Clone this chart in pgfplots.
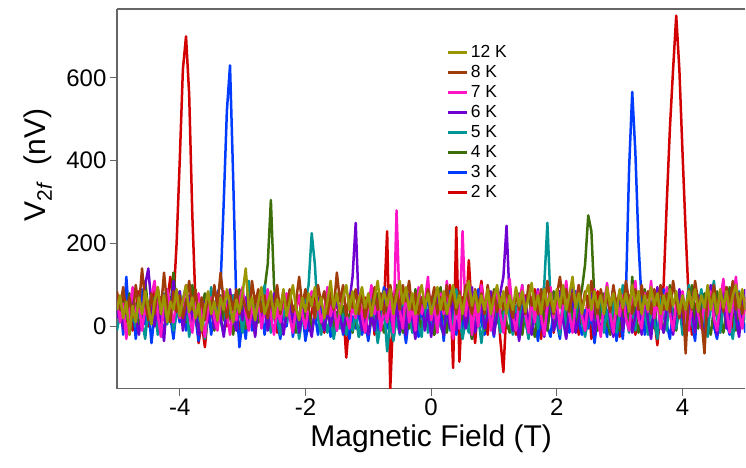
\documentclass[border=0pt]{standalone}
\usepackage{fontspec}
\setmainfont{Liberation Sans}
\usepackage{pgfplots}
\usepackage{pgfplotstable}
\pgfplotsset{compat=1.18}
\definecolor{cR}{RGB}{210,0,0}
\definecolor{cB}{RGB}{0,60,255}
\definecolor{cG}{RGB}{60,110,10}
\definecolor{cT}{RGB}{0,150,150}
\definecolor{cP}{RGB}{110,0,210}
\definecolor{cM}{RGB}{255,20,200}
\definecolor{cN}{RGB}{160,60,10}
\definecolor{cO}{RGB}{155,150,0}
\pgfplotstableread{
x r b g t p m n o
-5.00 60 30 45 -10 20 80 85 40
-4.95 20 70 10 30 60 10 40 75
-4.90 75 -20 60 5 -5 55 95 20
-4.85 10 120 20 55 45 -30 30 60
-4.80 55 10 80 -20 10 40 70 -20
-4.75 -10 60 15 40 70 95 20 50
-4.70 40 -30 55 0 20 15 100 10
-4.65 85 40 -5 60 -20 60 45 70
-4.60 25 90 35 15 40 -10 140 30
-4.55 60 5 110 -30 100 45 60 85
-4.50 0 50 40 45 140 20 15 45
-4.45 45 -40 75 10 50 75 80 5
-4.40 90 30 20 70 0 110 30 60
-4.35 30 80 -10 -20 60 30 95 95
-4.30 70 15 60 35 15 -25 40 30
-4.25 15 -15 30 80 -35 60 130 75
-4.20 55 65 90 5 70 90 50 10
-4.15 120 25 40 50 25 40 10 60
-4.10 60 -30 130 -10 110 10 85 40
-4.05 200 45 50 30 40 65 35 90
-4.00 400 10 20 85 85 20 75 25
-3.95 620 70 70 20 -10 55 20 65
-3.90 700 -10 10 60 40 100 60 100
-3.85 560 40 55 -25 75 30 110 35
-3.80 270 90 100 25 15 -15 40 70
-3.75 60 20 30 70 55 50 90 20
-3.70 -40 -35 -15 10 -20 80 25 55
-3.65 10 55 45 45 30 25 70 -10
-3.60 -50 15 80 -30 60 -25 15 45
-3.55 30 60 20 20 10 40 80 85
-3.50 80 -20 50 95 45 70 35 30
-3.45 20 35 -10 5 -5 20 100 60
-3.40 65 80 40 50 80 -10 50 15
-3.35 10 100 75 15 25 55 130 70
-3.30 55 300 15 -20 -25 85 60 40
-3.25 0 520 60 60 40 30 20 90
-3.20 40 630 25 30 90 -20 75 50
-3.15 75 360 -20 75 20 45 40 10
-3.10 30 60 45 10 -10 15 90 65
-3.05 -10 -50 90 40 55 60 30 35
-3.00 50 20 30 -15 15 95 70 80
-2.95 15 -30 -5 45 70 30 45 140
-2.90 70 55 60 110 0 -10 20 40
-2.85 25 -10 25 35 40 50 110 70
-2.80 -20 45 70 -10 -25 20 55 15
-2.75 45 10 10 50 65 70 90 60
-2.70 90 60 40 20 20 -5 35 95
-2.65 40 -20 90 100 50 40 75 30
-2.60 5 30 150 40 -10 90 20 55
-2.55 60 -5 305 -15 35 25 65 85
-2.50 30 50 100 60 80 -20 40 20
-2.45 -15 15 30 25 20 45 100 65
-2.40 45 -30 -5 -20 50 10 30 40
-2.35 85 40 40 40 -20 60 75 90
-2.30 20 0 75 10 30 80 45 25
-2.25 60 60 20 55 70 20 90 60
-2.20 -5 -25 50 -10 10 -15 35 100
-2.15 40 20 -15 30 45 45 60 45
-2.10 75 -5 30 -30 -15 75 120 15
-2.05 15 40 60 20 25 30 50 70
-2.00 50 -35 10 60 55 -5 90 35
-1.95 -10 10 45 100 10 50 40 80
-1.90 35 -15 -10 225 -25 85 70 50
-1.85 70 30 30 150 40 20 20 95
-1.80 20 -20 55 20 70 60 100 40
-1.75 55 45 -5 -20 20 10 55 70
-1.70 -15 0 40 30 -10 40 85 20
-1.65 40 55 20 -15 45 95 30 60
-1.60 90 -25 70 25 0 25 75 110
-1.55 30 20 -20 -30 35 60 40 45
-1.50 65 -10 35 15 60 -10 130 80
-1.45 0 40 10 -5 25 40 60 30
-1.40 45 -20 50 30 -15 90 100 70
-1.35 -75 15 -10 -20 30 30 25 100
-1.30 20 -30 30 20 60 -5 75 40
-1.25 80 25 -15 -10 120 50 45 85
-1.20 30 -5 25 35 250 20 90 30
-1.15 60 40 -25 -25 40 75 30 65
-1.10 10 -20 20 15 -10 25 80 95
-1.05 70 10 -5 -15 25 -15 20 45
-1.00 25 -35 40 30 -20 45 60 80
-0.95 85 20 5 75 30 100 35 25
-0.90 -20 55 30 25 -10 30 95 70
-0.85 40 -10 80 -40 65 60 40 110
-0.80 10 40 15 10 0 -10 80 40
-0.75 50 95 -15 50 30 45 30 85
-0.70 230 -5 60 -60 90 10 70 50
-0.65 -150 25 -10 15 25 75 100 90
-0.60 40 -30 45 -35 -5 -15 50 30
-0.55 85 30 100 20 60 280 90 75
-0.50 30 75 35 -20 -15 40 40 110
-0.45 70 15 -15 60 45 -5 100 55
-0.40 20 -40 50 -10 -20 85 60 95
-0.35 60 25 -5 35 80 10 110 40
-0.30 -10 70 30 -15 20 50 40 80
-0.25 45 10 90 45 -30 -10 80 30
-0.20 90 -25 25 0 35 95 30 70
-0.15 35 50 -5 -25 70 30 70 100
-0.10 60 5 55 65 -10 60 45 45
-0.05 10 90 0 -15 40 120 90 80
0.00 50 -5 70 20 -25 15 55 30
0.05 -20 30 -20 85 25 55 95 60
0.10 40 -15 20 30 75 -15 30 95
0.15 75 60 95 0 10 80 70 40
0.20 20 -35 25 -20 -20 30 40 85
0.25 60 40 -15 55 50 110 100 30
0.30 100 85 45 -10 -5 20 50 70
0.35 -100 20 10 20 85 -30 80 100
0.40 240 -20 65 90 -10 60 30 45
0.45 -85 45 -5 25 30 -5 85 75
0.50 70 -10 30 -30 55 230 45 30
0.55 20 70 80 15 -5 25 100 80
0.60 160 5 20 -15 35 90 60 110
0.65 30 -30 -30 60 95 -20 30 50
0.70 -40 35 40 -5 -15 55 90 85
0.75 60 90 15 25 20 0 50 35
0.80 110 10 75 -40 60 100 80 75
0.85 40 -20 -10 20 -5 35 30 40
0.90 -20 55 45 80 25 70 100 90
0.95 70 15 0 30 85 -10 50 30
1.00 20 -25 90 -10 -20 45 85 70
1.05 75 60 20 40 30 90 35 100
1.10 -30 20 -5 -15 80 30 70 45
1.15 -110 -10 55 25 120 -15 40 85
1.20 45 40 10 75 243 50 95 30
1.25 90 85 -15 20 60 115 55 75
1.30 30 -5 60 -20 -10 25 20 40
1.35 -20 30 25 50 30 -10 85 95
1.40 60 -30 80 -5 -35 60 40 50
1.45 15 50 -20 100 25 100 75 85
1.50 75 10 35 15 70 30 30 35
1.55 -10 -20 95 -30 10 -15 100 70
1.60 45 65 10 35 -20 70 50 105
1.65 90 20 -25 60 45 10 80 40
1.70 30 -35 40 -5 90 85 30 75
1.75 -30 30 75 55 10 25 90 30
1.80 55 95 15 100 -25 -20 40 90
1.85 20 0 -10 250 40 55 110 50
1.90 70 -25 50 60 75 95 60 80
1.95 -15 45 85 -10 -10 20 30 35
2.00 40 10 20 30 20 70 75 90
2.05 85 -30 -5 -20 85 -5 120 45
2.10 30 60 55 70 15 50 55 100
2.15 -25 25 10 -10 -30 110 90 40
2.20 60 -15 70 40 50 30 35 75
2.25 100 50 25 -5 95 -15 80 120
2.30 30 85 -15 25 -15 60 50 45
2.35 -20 10 55 90 20 100 100 80
2.40 50 -20 90 10 60 25 40 30
2.45 15 40 150 -25 -10 -10 85 75
2.50 75 -5 268 20 30 65 45 100
2.55 -30 30 230 65 80 15 110 40
2.60 40 -40 60 -15 -20 90 60 85
2.65 85 20 -10 30 25 20 30 45
2.70 20 70 40 85 -15 -25 90 75
2.75 60 15 80 -15 55 55 40 30
2.80 -15 -25 15 40 90 105 75 95
2.85 45 45 -20 -5 10 30 35 50
2.90 90 90 35 70 -25 -15 100 80
2.95 30 -35 60 -15 45 60 50 30
3.00 -25 20 -10 30 75 25 85 90
3.05 50 -30 25 100 -10 75 40 45
3.10 15 80 70 25 35 20 110 80
3.15 75 380 -10 -15 65 -10 60 35
3.20 20 566 120 50 -15 65 30 100
3.25 -20 420 20 -10 25 110 90 50
3.30 55 200 -15 85 55 20 40 85
3.35 90 60 45 -5 -20 -5 100 30
3.40 30 -20 90 40 80 80 55 75
3.45 -15 25 10 -20 15 35 85 40
3.50 60 -10 55 60 -30 110 30 95
3.55 20 50 -5 15 50 20 90 50
3.60 -45 -25 70 -30 95 65 50 80
3.65 40 35 25 70 10 -5 100 30
3.70 100 90 -15 25 -15 50 40 75
3.75 300 5 50 -10 45 95 80 40
3.80 480 -30 100 90 70 30 35 90
3.85 620 40 30 15 -20 -10 110 50
3.90 750 -5 -10 -5 40 60 60 85
3.95 620 60 65 55 90 25 20 30
4.00 420 15 15 -20 20 85 75 75
4.05 230 -25 -30 40 -25 30 -65 40
4.10 60 45 55 100 60 -10 90 85
4.15 -20 10 100 10 30 55 40 45
4.20 55 -35 20 -15 -15 100 110 90
4.25 20 70 -5 45 75 30 60 35
4.30 85 20 50 90 10 -5 20 75
4.35 -10 -15 80 15 -30 60 -65 45
4.40 45 40 10 -25 50 25 90 100
4.45 90 95 -20 60 100 85 50 40
4.50 20 0 45 110 15 20 100 80
4.55 60 -30 85 20 -20 -10 40 30
4.60 -15 30 20 -15 45 60 85 90
4.65 50 80 -15 50 85 115 35 45
4.70 95 10 40 95 -5 40 95 85
4.75 30 -20 95 10 30 -15 50 35
4.80 -10 55 25 -30 80 55 110 75
4.85 55 90 -10 40 20 120 40 100
4.90 15 -5 50 85 -25 30 80 45
4.95 70 35 10 0 40 -5 30 90
5.00 30 -15 60 30 90 70 70 40
}\data
\begin{document}
\begin{tikzpicture}
\begin{axis}[
  scale only axis, width=629pt, height=380pt,
  xmin=-5, xmax=5, ymin=-150, ymax=766,
  axis x line*=box, axis y line*=left,
  axis line style={-, draw=black!60, line width=1.3pt},
  xtick={-4,-2,0,2,4}, ytick={0,200,400,600},
  xtick pos=bottom, ytick pos=left,
  tick align=outside, major tick length=7pt,
  tick style={draw=black!60, line width=1.2pt},
  ticklabel style={font=\fontsize{24}{28}\selectfont, text=black},
  /pgf/number format/assume math mode=true,
  xlabel={Magnetic Field (T)},
  ylabel={V\textsubscript{2\textit{f}}\ \ (nV)},
  label style={font=\fontsize{30}{34}\selectfont},
  xlabel style={at={(axis description cs:0.5,0)}, anchor=center, yshift=-50pt},
  ylabel style={at={(axis description cs:-0.126,0.589)}, anchor=center},
  legend style={at={(axis description cs:0.52,0.915)}, anchor=north west,
    draw=none, fill=none, font=\fontsize{17.5}{20}\selectfont, row sep=1pt,
    nodes={inner sep=2pt, text height=12.5pt, text depth=2.5pt},
    cells={anchor=west}},
  legend image code/.code={\draw[#1, line width=3pt] (0pt,0pt) -- (19pt,0pt);},
  reverse legend,
  no markers,
  every axis plot/.append style={line width=2.5pt, line join=round},
]
\addplot[cR] table[x=x,y=r]{\data};
\addlegendentry{2 K}
\addplot[cB] table[x=x,y=b]{\data};
\addlegendentry{3 K}
\addplot[cG] table[x=x,y=g]{\data};
\addlegendentry{4 K}
\addplot[cT] table[x=x,y=t]{\data};
\addlegendentry{5 K}
\addplot[cP] table[x=x,y=p]{\data};
\addlegendentry{6 K}
\addplot[cM] table[x=x,y=m]{\data};
\addlegendentry{7 K}
\addplot[cN] table[x=x,y=n]{\data};
\addlegendentry{8 K}
\addplot[cO] table[x=x,y=o]{\data};
\addlegendentry{12 K}
\end{axis}
\path (current axis.south west) +(-117pt,-79pt) (current axis.north east) +(0pt,9pt);
\end{tikzpicture}
\end{document}
